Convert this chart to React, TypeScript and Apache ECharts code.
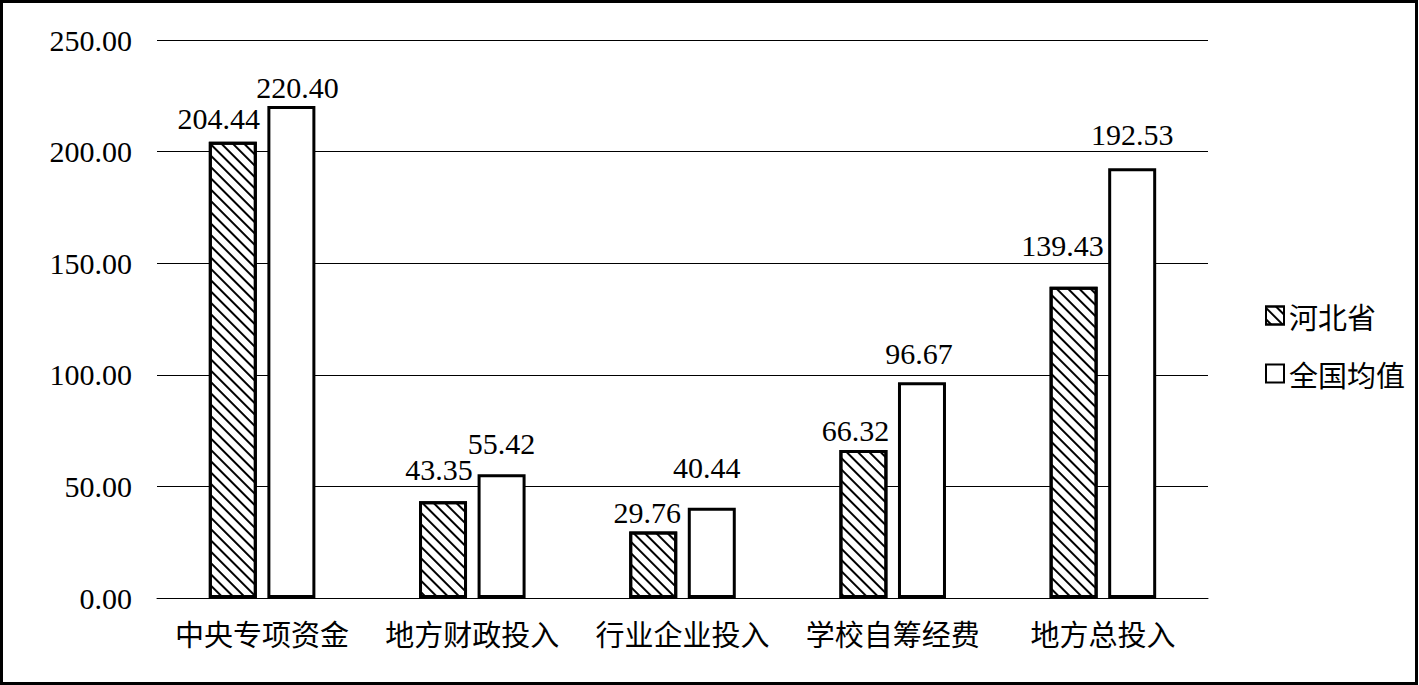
import React, { useEffect, useRef } from "react";
import * as echarts from "echarts";

const categories = ["中央专项资金", "地方财政投入", "行业企业投入", "学校自筹经费", "地方总投入"];
const seriesNames = ["河北省", "全国均值"];
const hebei = [204.44, 43.35, 29.76, 66.32, 139.43];
const national = [220.4, 55.42, 40.44, 96.67, 192.53];
const yTicks = { min: 0, max: 250, interval: 50 };

// label nudges (style only), [dx, dy] per bar
const hebeiLabelOffsets = [[-14, -3], [-4, -12], [-6, 1], [-8, 1], [-11, -21]];
const nationalLabelOffsets = [[6, 1], [0, -11], [-5, -20], [-3, -9], [0, -14]];

const SERIF = "'Liberation Serif', 'Times New Roman', serif";
const CJK = "'Noto Sans CJK SC', 'Liberation Serif', serif";

export default function App() {
  const ref = useRef<HTMLDivElement>(null);
  useEffect(() => {
    if (!ref.current) return;
    const chart = echarts.init(ref.current, null, { renderer: "svg" });
    const labelBase = {
      show: true,
      position: "top" as const,
      distance: 5,
      color: "#000",
      fontSize: 30,
      fontFamily: SERIF,
      formatter: (p: any) => Number(p.value).toFixed(2),
    };
    const mk = (vals: number[], offs: number[][]) =>
      vals.map((v, i) => ({ value: v, label: { offset: offs[i], fontFamily: SERIF, fontSize: 30 } }));
    chart.setOption({
      animation: false,
      backgroundColor: "#fff",
      grid: { left: 157, right: 211, top: 40, bottom: 87, containLabel: false },
      legend: {
        orient: "vertical",
        left: 1260,
        top: 296,
        itemWidth: 18,
        itemHeight: 18,
        itemGap: 29,
        icon: "rect",
        textStyle: { fontSize: 29, color: "#000", fontFamily: CJK, padding: [0, 0, 0, 0] },
        data: seriesNames,
      },
      xAxis: {
        type: "category",
        data: categories,
        axisLine: { show: true, lineStyle: { color: "#000", width: 1 } },
        axisTick: { show: false },
        axisLabel: { color: "#000", fontSize: 29, fontFamily: CJK, margin: 20, interval: 0 },
      },
      yAxis: {
        type: "value",
        min: yTicks.min,
        max: yTicks.max,
        interval: yTicks.interval,
        axisLine: { show: false },
        axisTick: { show: false },
        splitLine: { lineStyle: { color: "#000", width: 1 } },
        axisLabel: {
          color: "#000",
          fontSize: 30,
          fontFamily: SERIF,
          margin: 25,
          formatter: (v: number) => v.toFixed(2),
        },
      },
      series: [
        {
          name: seriesNames[0],
          type: "bar",
          barWidth: 48,
          barGap: "22%",
          data: mk(hebei, hebeiLabelOffsets),
          itemStyle: {
            color: "#fff",
            borderColor: "#000",
            borderWidth: 3,
            decal: {
              symbol: "rect",
              dashArrayX: [1, 0],
              dashArrayY: [1.6, 5.6],
              rotation: Math.PI / 4,
              color: "#000",
              backgroundColor: "#fff",
            },
          },
          label: labelBase,
        },
        {
          name: seriesNames[1],
          type: "bar",
          barWidth: 48,
          data: mk(national, nationalLabelOffsets),
          itemStyle: { color: "#fff", borderColor: "#000", borderWidth: 3 },
          label: labelBase,
        },
      ],
      graphic: [
        {
          type: "rect",
          shape: { x: 1.5, y: 1.5, width: 1415, height: 682 },
          style: { fill: "none", stroke: "#000", lineWidth: 3 },
          silent: true,
          z: 100,
        },
      ],
    });
    return () => chart.dispose();
  }, []);
  return (
    <div
      ref={ref}
      style={{ position: "fixed", left: 0, top: 0, width: 1419, height: 685, background: "#fff" }}
    />
  );
}
